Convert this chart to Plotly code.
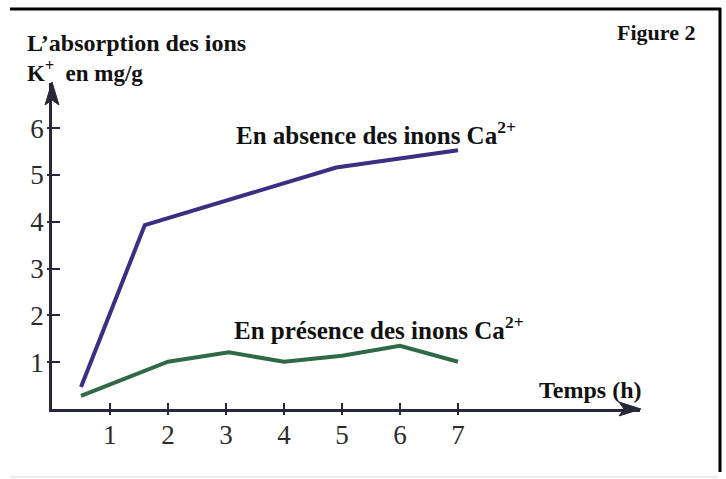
import plotly.graph_objects as go

# ---- data ----
absence_x = [0.5, 1.6, 4.9, 7.0]
absence_y = [0.47, 3.93, 5.16, 5.53]
presence_x = [0.5, 2.0, 3.05, 4.0, 5.0, 6.0, 7.0]
presence_y = [0.28, 1.01, 1.21, 1.01, 1.14, 1.35, 1.01]
x_ticks = [1, 2, 3, 4, 5, 6, 7]
y_ticks = [1, 2, 3, 4, 5, 6]

W, H = 726, 479
L, R, T, B = 52, 86, 83, 70
PW, PH = W - L - R, H - T - B
XMAX = PW / 58.0
YMAX = PH / 46.8

def px(x):
    return (x - L) / PW

def py(y):
    return (H - B - y) / PH

PURPLE = "#3a2f82"
GREEN = "#2f6a45"
AXIS = "#27273a"
SERIF = "Liberation Serif, Times New Roman, serif"

fig = go.Figure()
fig.add_trace(go.Scatter(x=absence_x, y=absence_y, mode="lines",
                         line=dict(color=PURPLE, width=4), hoverinfo="skip"))
fig.add_trace(go.Scatter(x=presence_x, y=presence_y, mode="lines",
                         line=dict(color=GREEN, width=4), hoverinfo="skip"))
fig.add_trace(go.Scatter(x=[], y=[], xaxis="x2", yaxis="y2", hoverinfo="skip"))

common = dict(showgrid=False, zeroline=False,
              tickcolor=AXIS, tickwidth=2)
fig.update_layout(
    width=W, height=H,
    margin=dict(l=L, r=R, t=T, b=B),
    paper_bgcolor="white", plot_bgcolor="white",
    showlegend=False,
    xaxis=dict(range=[0, XMAX], tickvals=x_ticks, ticktext=[str(v) for v in x_ticks],
               ticks="inside", ticklen=6,
               showline=True, linecolor=AXIS, linewidth=2.5,
               tickfont=dict(family=SERIF, size=27, color="#2a2a2a"), **common),
    yaxis=dict(range=[0, YMAX], tickvals=y_ticks, ticktext=[str(v) for v in y_ticks],
               ticks="inside", ticklen=8,
               showline=True, linecolor=AXIS, linewidth=2.5,
               tickfont=dict(family=SERIF, size=27, color="#2a2a2a"), **common),
    xaxis2=dict(range=[0, XMAX], overlaying="x", anchor="y", side="bottom", showline=False,
                tickvals=x_ticks, ticks="outside", ticklen=5, showticklabels=False, **common),
    yaxis2=dict(range=[0, YMAX], overlaying="y", anchor="x", side="left", showline=False,
                tickvals=y_ticks, ticks="outside", ticklen=4, showticklabels=False, **common),
)

# arrow heads at the axis ends
def tri(pts):
    d = "M " + " L ".join(f"{px(a):.5f},{py(b):.5f}" for a, b in pts) + " Z"
    fig.add_shape(type="path", xref="paper", yref="paper", path=d,
                  fillcolor=AXIS, line=dict(color=AXIS, width=1))

tri([(641, 409), (619, 402), (624, 409), (619, 416)])
tri([(52, 82), (45, 105), (52, 100), (59, 105)])

def label(text, x, y, size, xanchor="left"):
    fig.add_annotation(x=px(x), y=py(y), xref="paper", yref="paper", text=text,
                       showarrow=False, xanchor=xanchor, yanchor="middle",
                       font=dict(family=SERIF, size=size, color="#111111"))

label("<b>L’absorption des ions</b>", 25, 43, 24)
label("<b>K<sup>+</sup>  en mg/g</b>", 25, 71, 23)
label("<b>Figure 2</b>", 615, 32, 22)
label("<b>En absence des inons Ca<sup>2+</sup></b>", 234, 133, 25)
label("<b>En présence des inons Ca<sup>2+</sup></b>", 232, 328, 25)
label("<b>Temps (h)</b>", 537, 390, 24)

# frame
fig.add_shape(type="line", xref="paper", yref="paper", x0=px(10), x1=px(721), y0=py(9), y1=py(9),
              line=dict(color="black", width=3))
fig.add_shape(type="line", xref="paper", yref="paper", x0=px(720), x1=px(720), y0=py(8), y1=py(472),
              line=dict(color="black", width=3))
fig.add_shape(type="line", xref="paper", yref="paper", x0=px(10), x1=px(718), y0=py(477), y1=py(477),
              line=dict(color="#ececec", width=2))

fig.write_html("out.html", config={"displayModeBar": False},
               post_script="document.body.style.margin='0';")
